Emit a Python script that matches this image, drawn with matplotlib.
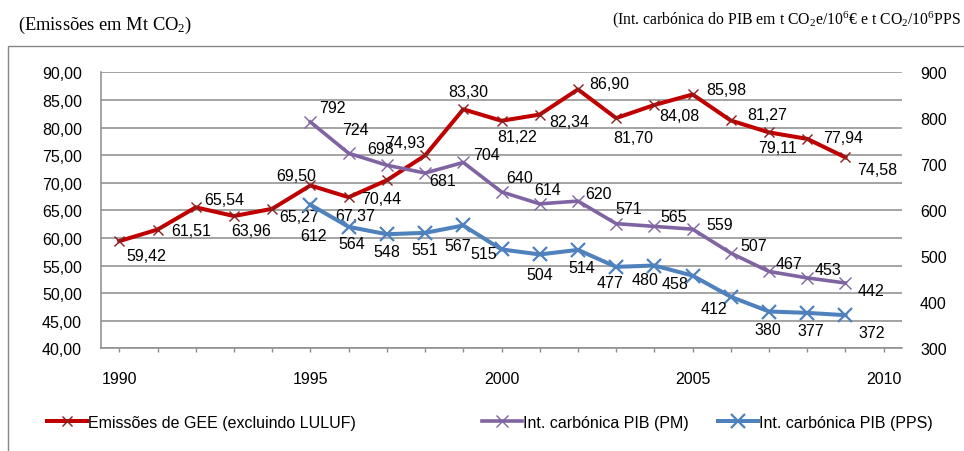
import matplotlib
matplotlib.use("Agg")
import matplotlib.pyplot as plt
from matplotlib.lines import Line2D
from matplotlib.patches import Rectangle

# ---------------- data ----------------
years_gee = list(range(1990, 2010))
gee = [59.42, 61.51, 65.54, 63.96, 65.27, 69.50, 67.37, 70.44, 74.93, 83.30,
       81.22, 82.34, 86.90, 81.70, 84.08, 85.98, 81.27, 79.11, 77.94, 74.58]
years_int = list(range(1995, 2010))
int_pm = [792, 724, 698, 681, 704, 640, 614, 620, 571, 565, 559, 507, 467, 453, 442]
int_pps = [612, 564, 548, 551, 567, 515, 504, 514, 477, 480, 458, 412, 380, 377, 372]
left_ticks = [40, 45, 50, 55, 60, 65, 70, 75, 80, 85, 90]
right_ticks = [300, 400, 500, 600, 700, 800, 900]
x_ticks = [1990, 1995, 2000, 2005, 2010]
legend_labels = ["Emissões de GEE (excluindo LULUF)", "Int. carbónica PIB (PM)",
                 "Int. carbónica PIB (PPS)"]
title_left = r"(Emissões em Mt CO$\mathregular{_2}$)"
title_right = (r"(Int. carbónica do PIB em t CO$\mathregular{_2}$e/10$\mathregular{^6}$€ "
               r"e t CO$\mathregular{_2}$/10$\mathregular{^6}$PPS")

# label offsets (pixels, dx right, dy down)
off_gee = [(27, 14), (34, 1), (28, -8), (17, 14), (27, 8), (-14, -10), (7, 18),
           (-6, 18), (-20, -13), (5, -18), (16, 16), (30, 7), (31, -6), (17, 19),
           (25, 11), (34, -5), (36, -6), (8, 15), (36, -1), (32, 12)]
off_pm = [(22, -14), (7, -24), (-6, -17), (18, 7), (23, -8), (18, -14), (8, -14),
          (21, -8), (13, -15), (19, -10), (27, -5), (23, -8), (20, -8), (21, -8),
          (26, 8)]
off_pps = [(3, 31), (3, 17), (0, 17), (0, 17), (-6, 20), (-18, 4), (0, 20), (4, 18),
           (-6, 16), (-9, 14), (-18, 8), (-17, 12), (-1, 18), (4, 18), (26, 17)]

RED = "#C00000"
RED_M = "#8B1E1E"
PURPLE = "#8064A2"
BLUE = "#4F81BD"
GRID = "#8C8C8C"

plt.rcParams['font.family'] = ['Liberation Sans Narrow', 'Liberation Sans', 'DejaVu Sans']
plt.rcParams['mathtext.fontset'] = 'custom'
plt.rcParams['mathtext.rm'] = 'Liberation Serif'

W, H = 964, 452
fig = plt.figure(figsize=(W / 100, H / 100), dpi=100)
PT = 0.72  # px -> pt

L, R, T, B = 101, 902, 73.3, 349.3
ax = fig.add_axes([L / W, 1 - B / H, (R - L) / W, (B - T) / H])
ax2 = ax.twinx()

FS = 16 * PT

# outer frame
fig.patches.append(Rectangle((8 / W, -0.1), 1.2, 1 - 47.3 / H + 0.1, transform=fig.transFigure,
                             fill=False, edgecolor="#878787", lw=1.0))

ax.set_xlim(1989.52, 2010.48)
ax.set_ylim(40, 90)
ax2.set_ylim(300, 900)

ax.set_yticks(left_ticks)
ax.set_yticklabels([f"{v:.2f}".replace('.', ',') for v in left_ticks], fontsize=FS)
ax.yaxis.grid(True, color=GRID, lw=1.1)
ax.set_axisbelow(True)
ax.tick_params(axis='y', length=0, pad=19 * PT)

ax.set_xticks(x_ticks)
ax.set_xticklabels([str(v) for v in x_ticks], fontsize=FS)
ax.set_xticks(list(range(1990, 2011)), minor=True)
ax.tick_params(axis='x', which='both', length=4 * PT, color=GRID, width=1.0, pad=19 * PT)

ax2.set_yticks(right_ticks)
ax2.set_yticklabels([str(v) for v in right_ticks], fontsize=FS)
ax2.tick_params(axis='y', length=0, pad=18 * PT)

for a in (ax, ax2):
    for s in ('top', 'right'):
        a.spines[s].set_visible(False)
ax2.spines['left'].set_visible(False)
ax2.spines['bottom'].set_visible(False)
ax.spines['left'].set_color(GRID)
ax.spines['bottom'].set_color(GRID)
ax.spines['left'].set_linewidth(1.1)
ax.spines['bottom'].set_linewidth(1.1)

# series
l1, = ax.plot(years_gee, gee, color=RED, lw=2.9, marker='x', ms=7, mew=1.0, mec=RED_M,
              zorder=3)
l2, = ax2.plot(years_int, int_pm, color=PURPLE, lw=2.6, marker='x', ms=8, mew=1.0,
               mec=PURPLE, zorder=3)
l3, = ax2.plot(years_int, int_pps, color=BLUE, lw=2.9, marker='x', ms=10, mew=1.6,
               mec=BLUE, zorder=3)

for x, v, (dx, dy) in zip(years_gee, gee, off_gee):
    ax.annotate(f"{v:.2f}".replace('.', ','), (x, v), xytext=(dx * PT, -dy * PT),
                textcoords='offset points', ha='center', va='center', fontsize=FS,
                zorder=5)
for x, v, (dx, dy) in zip(years_int, int_pm, off_pm):
    ax2.annotate(str(v), (x, v), xytext=(dx * PT, -dy * PT), textcoords='offset points',
                 ha='center', va='center', fontsize=FS, zorder=5)
for x, v, (dx, dy) in zip(years_int, int_pps, off_pps):
    ax2.annotate(str(v), (x, v), xytext=(dx * PT, -dy * PT), textcoords='offset points',
                 ha='center', va='center', fontsize=FS, zorder=5)

# legends
def leg(handle, label, xpx):
    lg = fig.legend([handle], [label], loc='center left',
                    bbox_to_anchor=(xpx / W, 1 - 423.3 / H), frameon=False,
                    fontsize=FS, handlelength=2.5, handletextpad=0.05, numpoints=1,
                    borderpad=0, borderaxespad=0)
    return lg

h1 = Line2D([], [], color=RED, lw=2.9, marker='x', ms=7, mew=1.0, mec=RED_M)
h2 = Line2D([], [], color=PURPLE, lw=2.6, marker='x', ms=8, mew=1.0, mec=PURPLE)
h3 = Line2D([], [], color=BLUE, lw=2.9, marker='x', ms=10, mew=1.6, mec=BLUE)
leg(h1, legend_labels[0], 47)
leg(h2, legend_labels[1], 482)
leg(h3, legend_labels[2], 718)

fig.text(18 / W, 1 - 25 / H, title_left, family='Liberation Serif', fontsize=18.5 * PT,
         ha='left', va='center')
fig.text(961 / W, 1 - 20 / H, title_right, family='Liberation Serif', fontsize=15.8 * PT,
         ha='right', va='center')

fig.savefig("out.png", dpi=100)
